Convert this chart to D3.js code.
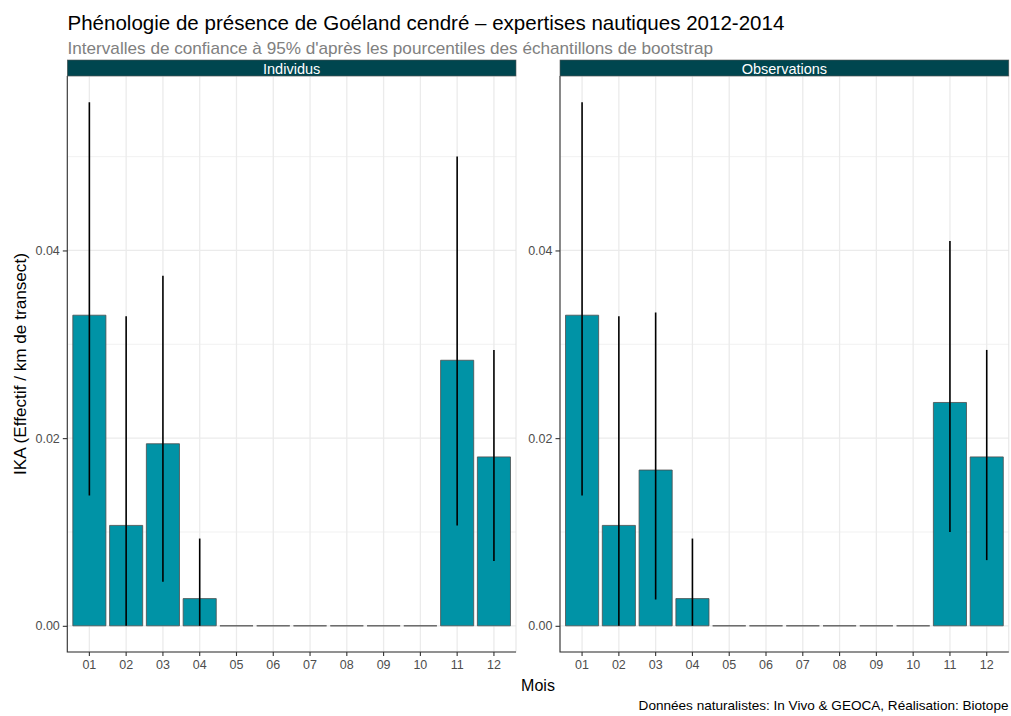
<!DOCTYPE html>
<html>
<head>
<meta charset="utf-8">
<script src="https://cdn.jsdelivr.net/npm/d3@7"></script>
<style>
  html, body { margin: 0; padding: 0; background: #ffffff; }
  svg { display: block; font-family: "Liberation Sans", Arial, Helvetica, sans-serif; }
</style>
</head>
<body>
<svg id="chart" width="1011" height="716"></svg>
<script>
// Months on the x axis
const months = ["01", "02", "03", "04", "05", "06", "07", "08", "09", "10", "11", "12"];

// Panel "Individus": IKA and 95% bootstrap interval
const individus     = [0.0331, 0.0107, 0.0194, 0.0029, 0, 0, 0, 0, 0, 0, 0.0283, 0.0180];
const individusLow  = [0.0139, 0.0000, 0.0047, 0.0000, 0, 0, 0, 0, 0, 0, 0.0107, 0.0069];
const individusHigh = [0.0558, 0.0330, 0.0373, 0.0093, 0, 0, 0, 0, 0, 0, 0.0500, 0.0294];

// Panel "Observations": IKA and 95% bootstrap interval
const observations     = [0.0331, 0.0107, 0.0166, 0.0029, 0, 0, 0, 0, 0, 0, 0.0238, 0.0180];
const observationsLow  = [0.0139, 0.0000, 0.0028, 0.0000, 0, 0, 0, 0, 0, 0, 0.0100, 0.0070];
const observationsHigh = [0.0558, 0.0330, 0.0334, 0.0093, 0, 0, 0, 0, 0, 0, 0.0410, 0.0294];

const panelNames = ["Individus", "Observations"];
const yTicks = [0, 0.02, 0.04];
const yMinor = [0.01, 0.03, 0.05];

const titleText = "Phénologie de présence de Goéland cendré – expertises nautiques 2012-2014";
const subtitleText = "Intervalles de confiance à 95% d'après les pourcentiles des échantillons de bootstrap";
const xTitle = "Mois";
const yTitle = "IKA (Effectif / km de transect)";
const captionText = "Données naturalistes: In Vivo & GEOCA, Réalisation: Biotope";

const panels = [
  { name: panelNames[0], values: individus, low: individusLow, high: individusHigh },
  { name: panelNames[1], values: observations, low: observationsLow, high: observationsHigh }
];

const svg = d3.select("#chart");

// layout
const panelTop = 76, panelBottom = 652, stripTop = 60;
const panelX = [[67.3, 516], [560, 1008.8]];

const barFill = "#0093a6";
const barStroke = "#4d4d4d";
const stripFill = "#00464f";
const gridColor = "#ebebeb";
const tickText = "#4d4d4d";

// ggplot-like 5% expansion of the continuous scale
const yMax = d3.max(panels, p => d3.max(p.high.concat(p.values)));
const yMin = 0;
const span = yMax - yMin;
const y = d3.scaleLinear()
  .domain([yMin - 0.05 * span, yMax + 0.05 * span])
  .range([panelBottom, panelTop]);

// helper to fit a text to a measured width
function fitText(sel, width) {
  const node = sel.node();
  const w = node.getComputedTextLength();
  const fs = parseFloat(sel.attr("font-size"));
  sel.attr("font-size", (fs * width / w).toFixed(2));
}

panels.forEach((p, i) => {
  const [x0, x1] = panelX[i];
  const x = d3.scaleBand().domain(months).range([x0, x1])
    .paddingInner(0.1).paddingOuter(0.15);
  const center = m => x(m) + x.bandwidth() / 2;

  const g = svg.append("g");

  // grid
  g.selectAll(".ymin").data(yMinor).join("line")
    .attr("x1", x0).attr("x2", x1)
    .attr("y1", d => y(d)).attr("y2", d => y(d))
    .attr("stroke", gridColor).attr("stroke-width", 0.7);
  g.selectAll(".ymaj").data(yTicks).join("line")
    .attr("x1", x0).attr("x2", x1)
    .attr("y1", d => y(d)).attr("y2", d => y(d))
    .attr("stroke", gridColor).attr("stroke-width", 1.3);
  g.selectAll(".xmaj").data(months).join("line")
    .attr("x1", d => center(d)).attr("x2", d => center(d))
    .attr("y1", panelTop).attr("y2", panelBottom)
    .attr("stroke", gridColor).attr("stroke-width", 1.3);

  // light panel border
  g.append("rect")
    .attr("x", x0).attr("y", panelTop)
    .attr("width", x1 - x0).attr("height", panelBottom - panelTop)
    .attr("fill", "none").attr("stroke", "#e3e3e3").attr("stroke-width", 1);

  // bars (paths so that zero-height bars still show their outline)
  g.selectAll(".bar").data(months).join("path")
    .attr("d", (m, k) => {
      const bx = x(m), bw = x.bandwidth();
      const yt = y(p.values[k]), yb = y(0);
      return `M${bx},${yb}H${bx + bw}V${yt}H${bx}Z`;
    })
    .attr("fill", barFill)
    .attr("stroke", barStroke)
    .attr("stroke-width", 0.8);

  // confidence intervals
  g.selectAll(".ci").data(months.filter((m, k) => p.high[k] > 0)).join("line")
    .attr("x1", m => center(m)).attr("x2", m => center(m))
    .attr("y1", m => y(p.low[months.indexOf(m)]))
    .attr("y2", m => y(p.high[months.indexOf(m)]))
    .attr("stroke", "#000").attr("stroke-width", 1.6);

  // axes
  const yAxis = d3.axisLeft(y).tickValues(yTicks).tickFormat(d3.format(".2f"))
    .tickSize(4.5).tickPadding(3);
  const ya = svg.append("g").attr("transform", `translate(${x0},0)`).call(yAxis);
  const xAxis = d3.axisBottom(x).tickSize(4).tickPadding(4);
  const xa = svg.append("g").attr("transform", `translate(0,${panelBottom})`).call(xAxis);
  [ya, xa].forEach(a => {
    a.select(".domain").remove();
    a.selectAll(".tick line").attr("stroke", "#333").attr("stroke-width", 1.1);
    a.selectAll(".tick text").attr("fill", tickText)
      .attr("font-size", 12.5).attr("font-family", "Liberation Sans, Arial, sans-serif");
  });
  // axis lines (left and bottom)
  svg.append("path")
    .attr("d", `M${x0},${panelTop}V${panelBottom}H${x1}`)
    .attr("fill", "none").attr("stroke", "#333").attr("stroke-width", 1.1);

  // strip
  svg.append("rect")
    .attr("x", x0).attr("y", stripTop)
    .attr("width", x1 - x0).attr("height", panelTop - stripTop)
    .attr("fill", stripFill).attr("stroke", "#555").attr("stroke-width", 0.6);
  svg.append("text")
    .attr("x", (x0 + x1) / 2).attr("y", 73.5)
    .attr("text-anchor", "middle")
    .attr("fill", "#ffffff").attr("font-size", 14.5)
    .text(p.name);
});

// titles
const t = svg.append("text").attr("x", 67.5).attr("y", 29.5)
  .attr("font-size", 18).attr("fill", "#000").text(titleText);
fitText(t, 717);
const st = svg.append("text").attr("x", 67.5).attr("y", 54)
  .attr("font-size", 15).attr("fill", "#808080").text(subtitleText);
fitText(st, 646);

const xt = svg.append("text").attr("x", 538).attr("y", 691)
  .attr("text-anchor", "middle").attr("font-size", 16).attr("fill", "#000").text(xTitle);

const yt = svg.append("text")
  .attr("transform", `translate(26,${(panelTop + panelBottom) / 2}) rotate(-90)`)
  .attr("text-anchor", "middle").attr("font-size", 15.5).attr("fill", "#000").text(yTitle);
fitText(yt, 222);

const cap = svg.append("text").attr("x", 1008.5).attr("y", 710)
  .attr("text-anchor", "end").attr("font-size", 12).attr("fill", "#000").text(captionText);
fitText(cap, 370);
</script>
</body>
</html>
